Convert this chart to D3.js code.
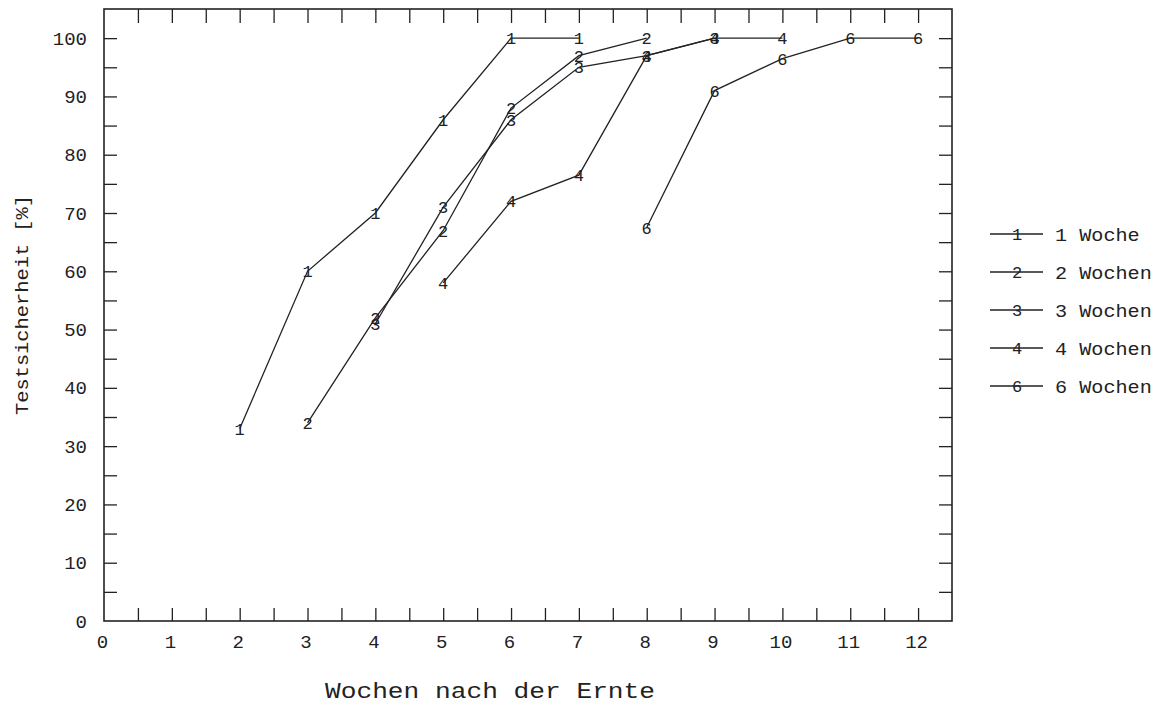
<!DOCTYPE html>
<html>
<head>
<meta charset="utf-8">
<script src="https://cdn.jsdelivr.net/npm/d3@7"></script>
<style>
  body { margin: 0; background: #fff; }
  text { font-family: "Liberation Mono", "DejaVu Sans Mono", monospace; fill: #222; }
</style>
</head>
<body>
<svg id="chart"></svg>
<script>
// data
const xLabels = [0, 1, 2, 3, 4, 5, 6, 7, 8, 9, 10, 11, 12];
const yLabels = [0, 10, 20, 30, 40, 50, 60, 70, 80, 90, 100];
const seriesNames = ["1 Woche", "2 Wochen", "3 Wochen", "4 Wochen", "6 Wochen"];
const seriesMarks = ["1", "2", "3", "4", "6"];

const woche1 = [[2, 33], [3, 60], [4, 70], [5, 86], [6, 100], [7, 100]];
const woche2 = [[3, 34], [4, 52], [5, 67], [6, 88], [7, 97], [8, 100]];
const woche3 = [[4, 51], [5, 71], [6, 86], [7, 95], [8, 97], [9, 100]];
const woche4 = [[5, 58], [6, 72], [7, 76.5], [8, 97], [9, 100], [10, 100]];
const woche6 = [[8, 67.5], [9, 91], [10, 96.5], [11, 100], [12, 100]];
const allSeries = [woche1, woche2, woche3, woche4, woche6];

const width = 1155, height = 706;
const svg = d3.select("#chart").attr("width", width).attr("height", height);

const x = d3.scaleLinear().domain([0, 12.5]).range([104, 952]);
const y = d3.scaleLinear().domain([0, 105]).range([621, 9]);

const halfSteps = d3.range(0.5, 12.5, 0.5);
const fiveSteps = d3.range(5, 105, 5);

// ticks pointing inside the frame
const tickStyle = g => {
    g.select(".domain").remove();
    g.selectAll(".tick line").attr("stroke", "#222").attr("stroke-width", 1.3);
};
svg.append("g").attr("transform", `translate(0,${y(0)})`)
    .call(d3.axisBottom(x).tickValues(halfSteps).tickSize(-13).tickFormat(""))
    .call(tickStyle);
svg.append("g").attr("transform", `translate(0,${y(105)})`)
    .call(d3.axisTop(x).tickValues(halfSteps).tickSize(-14).tickFormat(""))
    .call(tickStyle);
svg.append("g").attr("transform", `translate(${x(0)},0)`)
    .call(d3.axisLeft(y).tickValues(fiveSteps).tickSize(-13).tickFormat(""))
    .call(tickStyle);
svg.append("g").attr("transform", `translate(${x(12.5)},0)`)
    .call(d3.axisRight(y).tickValues(fiveSteps).tickSize(-13).tickFormat(""))
    .call(tickStyle);

// labels
const xAxis = svg.append("g").attr("transform", `translate(0,${y(0)})`)
    .call(d3.axisBottom(x).tickValues(xLabels).tickSize(0).tickPadding(14));
xAxis.select(".domain").remove();
xAxis.selectAll("text").attr("font-size", 19).attr("font-family", null).attr("dx", -2);

const yAxis = svg.append("g").attr("transform", `translate(${x(0)},0)`)
    .call(d3.axisLeft(y).tickValues(yLabels).tickSize(0).tickPadding(17));
yAxis.select(".domain").remove();
yAxis.selectAll("text").attr("font-size", 19).attr("font-family", null);

// frame
svg.append("rect")
    .attr("x", x(0)).attr("y", y(105))
    .attr("width", x(12.5) - x(0)).attr("height", y(0) - y(105))
    .attr("fill", "none").attr("stroke", "#222").attr("stroke-width", 1.6);

// titles
svg.append("text")
    .attr("x", 490).attr("y", 698)
    .attr("text-anchor", "middle")
    .attr("font-size", 22)
    .attr("textLength", 330).attr("lengthAdjust", "spacingAndGlyphs")
    .text("Wochen nach der Ernte");

svg.append("text")
    .attr("transform", "translate(28,305) rotate(-90)")
    .attr("text-anchor", "middle")
    .attr("font-size", 18)
    .attr("textLength", 220).attr("lengthAdjust", "spacingAndGlyphs")
    .text("Testsicherheit [%]");

// series
const line = d3.line().x(d => x(d[0])).y(d => y(d[1]));
const plot = svg.append("g");
allSeries.forEach((s, i) => {
    plot.append("path")
        .datum(s)
        .attr("d", line)
        .attr("fill", "none")
        .attr("stroke", "#222")
        .attr("stroke-width", 1.3);
    plot.selectAll(null)
        .data(s)
        .join("text")
        .attr("x", d => x(d[0]))
        .attr("y", d => y(d[1]))
        .attr("dy", "0.36em")
        .attr("text-anchor", "middle")
        .attr("font-size", 17)
        .text(seriesMarks[i]);
});

// legend
const legend = svg.append("g");
const legendY = d3.scalePoint().domain(seriesNames).range([234, 386]);
seriesNames.forEach((name, i) => {
    const ly = legendY(name);
    legend.append("line")
        .attr("x1", 990).attr("x2", 1043)
        .attr("y1", ly).attr("y2", ly)
        .attr("stroke", "#222").attr("stroke-width", 1.3);
    legend.append("text")
        .attr("x", 1017).attr("y", ly).attr("dy", "0.36em")
        .attr("text-anchor", "middle").attr("font-size", 17)
        .text(seriesMarks[i]);
    legend.append("text")
        .attr("x", 1055).attr("y", ly).attr("dy", "0.36em")
        .attr("font-size", 19)
        .attr("textLength", name.length * 12.1).attr("lengthAdjust", "spacingAndGlyphs")
        .text(name);
});
</script>
</body>
</html>
